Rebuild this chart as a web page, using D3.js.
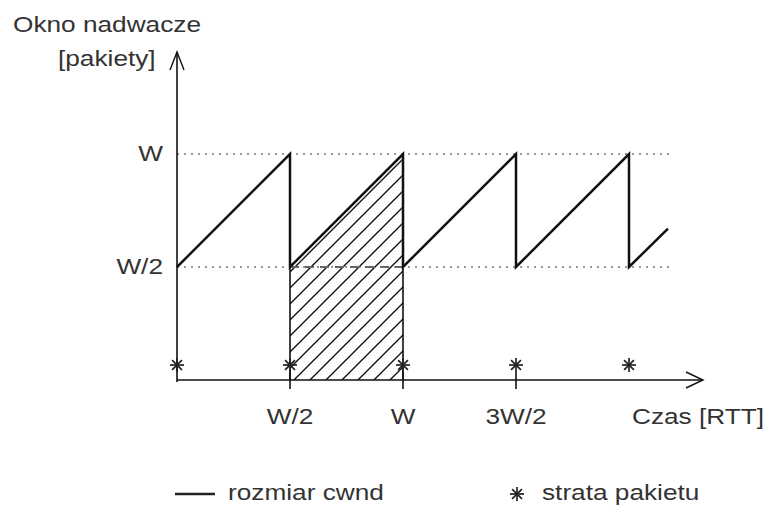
<!DOCTYPE html>
<html>
<head>
<meta charset="utf-8">
<script src="https://cdn.jsdelivr.net/npm/d3@7"></script>
<style>
body { margin: 0; background: #fff; }
svg text { font-family: "Liberation Sans", Arial, sans-serif; font-size: 21.5px; fill: #333; }
</style>
</head>
<body>
<div id="chart"></div>
<script>
// time in units of W/2 RTT, window in units of W
var sawX = [0, 1, 1, 2, 2, 3, 3, 4, 4, 4.345];
var sawY = [0.5, 1, 0.5, 1, 0.5, 1, 0.5, 1, 0.5, 0.67];
var lossX = [0, 1, 2, 3, 4];
var xTicks = [1, 2, 3];
var xTickLabels = ["W/2", "W", "3W/2"];
var yLevels = [0.5, 1];
var yLabels = ["W/2", "W"];

var width = 767, height = 506;
var stretch = 1.22;   // the original lettering is a bit wide
var svg = d3.select("#chart").append("svg")
	.attr("width", width)
	.attr("height", height);

var x = d3.scaleLinear().domain([0, 1]).range([177, 290]);
var y = d3.scaleLinear().domain([0, 1]).range([380, 154]);

// text helper: wide lettering
function label(px, py, str, anchor) {
	return svg.append("text")
		.attr("transform", "translate(" + px + "," + py + ") scale(" + stretch + ",1)")
		.attr("text-anchor", anchor || "start")
		.text(str);
}

// hatch pattern
var hs = 16;
var defs = svg.append("defs");
defs.append("pattern")
	.attr("id", "hatch")
	.attr("patternUnits", "userSpaceOnUse")
	.attr("x", x(1))
	.attr("width", hs).attr("height", hs)
	.append("path")
	.attr("d", "M-2," + (hs + 2) + " L" + (hs + 2) + ",-2 M-2,2 L2,-2 M" + (hs - 2) + "," + (hs + 2) + " L" + (hs + 2) + "," + (hs - 2))
	.attr("stroke", "#111")
	.attr("stroke-width", 1.4);

// hatched area under second tooth
var area = d3.area().x(d => x(d[0])).y0(y(0)).y1(d => y(d[1]));
svg.append("path")
	.datum([[1, 0.5], [2, 1]])
	.attr("d", area)
	.attr("fill", "url(#hatch)");

// dotted reference lines
svg.selectAll(".ref")
	.data(yLevels)
	.enter().append("line")
	.attr("x1", x(0)).attr("x2", 670)
	.attr("y1", d => y(d)).attr("y2", d => y(d))
	.attr("stroke", "#777")
	.attr("stroke-width", 1.3)
	.attr("stroke-dasharray", "2,5");

// dashed W/2 line inside hatched area
svg.append("line")
	.attr("x1", x(1)).attr("x2", x(2))
	.attr("y1", y(0.5)).attr("y2", y(0.5))
	.attr("stroke", "#666")
	.attr("stroke-width", 2)
	.attr("stroke-dasharray", "9,6");

yLevels.forEach(function (d, i) {
	label(163, y(d) + 7, yLabels[i], "end");
});

// axes
var axisColor = "#111";
svg.append("line")
	.attr("x1", x(0)).attr("x2", x(0))
	.attr("y1", y(0) + 2).attr("y2", 52)
	.attr("stroke", axisColor).attr("stroke-width", 1.6);
svg.append("path")
	.attr("d", "M" + (x(0) - 7) + ",70 L" + x(0) + ",52 L" + (x(0) + 7) + ",70")
	.attr("fill", "none").attr("stroke", axisColor).attr("stroke-width", 1.4);

svg.append("line")
	.attr("x1", x(0)).attr("x2", 703)
	.attr("y1", y(0)).attr("y2", y(0))
	.attr("stroke", axisColor).attr("stroke-width", 1.6);
svg.append("path")
	.attr("d", "M686," + (y(0) - 8) + " L703," + y(0) + " L686," + (y(0) + 8))
	.attr("fill", "none").attr("stroke", axisColor).attr("stroke-width", 1.4);

// ticks
svg.selectAll(".tick")
	.data(xTicks)
	.enter().append("line")
	.attr("x1", d => x(d)).attr("x2", d => x(d))
	.attr("y1", y(0) - 8).attr("y2", y(0) + 9)
	.attr("stroke", axisColor).attr("stroke-width", 1.6);

// hatched area borders
svg.selectAll(".border")
	.data([1, 2])
	.enter().append("line")
	.attr("x1", d => x(d)).attr("x2", d => x(d))
	.attr("y1", y(0.5)).attr("y2", y(0))
	.attr("stroke", axisColor).attr("stroke-width", 1.6);

xTicks.forEach(function (d, i) {
	label(x(d), 424, xTickLabels[i], "middle");
});

label(632, 424, "Czas [RTT]");
label(13, 32, "Okno nadwacze");
label(58, 66, "[pakiety]");

// sawtooth
var line = d3.line().x(d => x(d[0])).y(d => y(d[1]));
svg.append("path")
	.datum(sawX.map((d, i) => [d, sawY[i]]))
	.attr("d", line)
	.attr("fill", "none")
	.attr("stroke", "#111")
	.attr("stroke-width", 2.5)
	.attr("stroke-linejoin", "miter");

// loss markers
function star(g, cx, cy, r) {
	[0, 45, 90, 135].forEach(function (a) {
		var rad = a * Math.PI / 180;
		g.append("line")
			.attr("x1", cx - r * Math.cos(rad)).attr("y1", cy - r * Math.sin(rad))
			.attr("x2", cx + r * Math.cos(rad)).attr("y2", cy + r * Math.sin(rad))
			.attr("stroke", "#222").attr("stroke-width", 1.7);
	});
}
var stars = svg.append("g");
lossX.forEach(function (d) { star(stars, x(d), 365, 7); });

// legend
svg.append("line")
	.attr("x1", 175).attr("x2", 215)
	.attr("y1", 494).attr("y2", 494)
	.attr("stroke", "#222").attr("stroke-width", 2.5);
label(228, 500, "rozmiar cwnd");
star(svg.append("g"), 517, 494, 7);
label(542, 500, "strata pakietu");
</script>
</body>
</html>
